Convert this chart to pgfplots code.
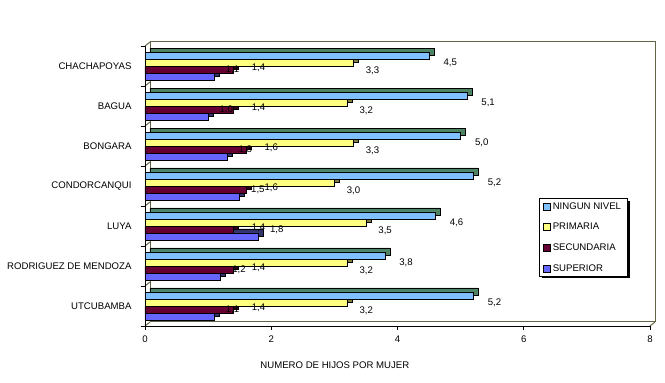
\documentclass[border=0pt]{standalone}
\usepackage{pgfplots}
\usepackage{pgfplotstable}
\pgfplotsset{compat=1.18}
\usepackage{fontspec}
\setmainfont{Liberation Sans}
\definecolor{cBlue}{RGB}{128,192,255}
\definecolor{cBlueD}{RGB}{77,133,100}
\definecolor{cYel}{RGB}{255,255,128}
\definecolor{cYelD}{RGB}{128,128,64}
\definecolor{cMar}{RGB}{102,0,51}
\definecolor{cMarD}{RGB}{51,0,25}
\definecolor{cPur}{RGB}{102,102,255}
\definecolor{cPurD}{RGB}{51,51,110}
\definecolor{cWall}{RGB}{100,100,70}
\pgfplotstableread{
y  n   p   s   u
7 4.5 3.3 1.4 1.1
6 5.1 3.2 1.4 1.0
5 5.0 3.3 1.6 1.3
4 5.2 3.0 1.6 1.5
3 4.6 3.5 1.4 1.8
2 3.8 3.2 1.4 1.2
1 5.2 3.2 1.4 1.1
}\data
\newcommand\fnt{\fontsize{9.6}{11}\selectfont}
\begin{document}
\begin{tikzpicture}
\path[use as bounding box] (0pt,0pt) rectangle (665pt,383pt);
% back walls of the 3-D plot area (drawn first, so they lie behind the bars)
\draw[color=cWall, line width=1pt] (150pt,61pt) -- (150pt,341pt) -- (655pt,341pt) -- (655pt,61pt) -- cycle;
\draw[color=cWall, line width=1pt] (650pt,57pt) -- (655pt,61pt);
\draw[color=cWall, line width=1pt] (145pt,57pt) -- (150pt,61pt);
\draw[color=cWall, line width=1pt] (145pt,97pt) -- (150pt,101pt);
\draw[color=cWall, line width=1pt] (145pt,137pt) -- (150pt,141pt);
\draw[color=cWall, line width=1pt] (145pt,177pt) -- (150pt,181pt);
\draw[color=cWall, line width=1pt] (145pt,217pt) -- (150pt,221pt);
\draw[color=cWall, line width=1pt] (145pt,257pt) -- (150pt,261pt);
\draw[color=cWall, line width=1pt] (145pt,297pt) -- (150pt,301pt);
\draw[color=cWall, line width=1pt] (145pt,337pt) -- (150pt,341pt);
% legend shadow (behind legend box)
\fill[black] (541.5pt,104.5pt) rectangle (629.5pt,181.5pt);
\begin{axis}[
  at={(145pt,57pt)}, anchor=south west,
  scale only axis, width=505pt, height=280pt,
  clip=false,
  xmin=0, xmax=8, ymin=0.5, ymax=7.5,
  axis lines=left, axis line style={black, line width=0.8pt, -}, 
  xtick={0,2,4,6,8},
  xticklabels={0,2,4,6,8},
  ytick={1,...,7},
  yticklabels={UTCUBAMBA,RODRIGUEZ DE MENDOZA,LUYA,CONDORCANQUI,BONGARA,BAGUA,CHACHAPOYAS},
  minor ytick={0.5,1.5,...,7.5},
  tick align=outside,
  major x tick style={black, line width=0.8pt}, major tick length=4pt,
  major y tick style={draw=none},
  minor y tick style={black, line width=0.8pt}, minor tick length=4pt,
  yticklabel style={xshift=-6pt, font=\fnt},
  xticklabel style={font=\fnt, yshift=-2pt},
  /pgf/number format/assume math mode=true,
  /pgf/number format/fixed, /pgf/number format/fixed zerofill,
  /pgf/number format/precision=1, /pgf/number format/use comma,
  xlabel={NUMERO DE HIJOS POR MUJER},
  every axis x label/.style={at={(rel axis cs:0.376,-0.139)}, anchor=center, font=\fnt},
  bar width=7pt,
  every node near coord/.append style={font=\fnt, anchor=west, black},
  legend image code/.code={\draw[#1,draw=black,line width=0.6pt] (0pt,-3.5pt) rectangle (7pt,3.5pt);},
  reverse legend,
  legend style={at={(rel axis cs:0.78,0.457)}, anchor=north west, draw=black, line width=0.6pt, fill=white,
    font=\fnt, row sep=8.5pt, inner xsep=4pt, inner ysep=2pt},
  legend cell align=left,
]
% SUPERIOR
\addplot[xbar, bar shift=-10.5pt, fill=cPurD, draw=black, line width=0.6pt, xshift=5pt, yshift=4pt, forget plot] table[x=u,y=y]{\data};
\addplot[xbar, bar shift=-10.5pt, fill=cPur, draw=black, line width=0.6pt] table[x=u,y=y]{\data};
\addlegendentry{SUPERIOR}
% SECUNDARIA
\addplot[xbar, bar shift=-3.5pt, fill=cMarD, draw=black, line width=0.6pt, xshift=5pt, yshift=4pt, forget plot] table[x=s,y=y]{\data};
\addplot[xbar, bar shift=-3.5pt, fill=cMar, draw=black, line width=0.6pt] table[x=s,y=y]{\data};
\addlegendentry{SECUNDARIA}
% PRIMARIA
\addplot[xbar, bar shift=3.5pt, fill=cYelD, draw=black, line width=0.6pt, xshift=5pt, yshift=4pt, forget plot] table[x=p,y=y]{\data};
\addplot[xbar, bar shift=3.5pt, fill=cYel, draw=black, line width=0.6pt] table[x=p,y=y]{\data};
\addlegendentry{PRIMARIA}
% NINGUN NIVEL
\addplot[xbar, bar shift=10.5pt, fill=cBlueD, draw=black, line width=0.6pt, xshift=5pt, yshift=4pt, forget plot] table[x=n,y=y]{\data};
\addplot[xbar, bar shift=10.5pt, fill=cBlue, draw=black, line width=0.6pt] table[x=n,y=y]{\data};
\addlegendentry{NINGUN NIVEL}
% value labels on top
\addplot[xbar, bar shift=-10.5pt, draw=none, fill=none, forget plot, nodes near coords, every node near coord/.append style={xshift=8pt,yshift=-3.5pt}] table[x=u,y=y]{\data};
\addplot[xbar, bar shift=-3.5pt, draw=none, fill=none, forget plot, nodes near coords, every node near coord/.append style={xshift=15pt,yshift=-2pt}] table[x=s,y=y]{\data};
\addplot[xbar, bar shift=3.5pt, draw=none, fill=none, forget plot, nodes near coords, every node near coord/.append style={xshift=9pt,yshift=-5pt}] table[x=p,y=y]{\data};
\addplot[xbar, bar shift=10.5pt, draw=none, fill=none, forget plot, nodes near coords, every node near coord/.append style={xshift=11pt,yshift=3.5pt}] table[x=n,y=y]{\data};
\end{axis}
\end{tikzpicture}
\end{document}
